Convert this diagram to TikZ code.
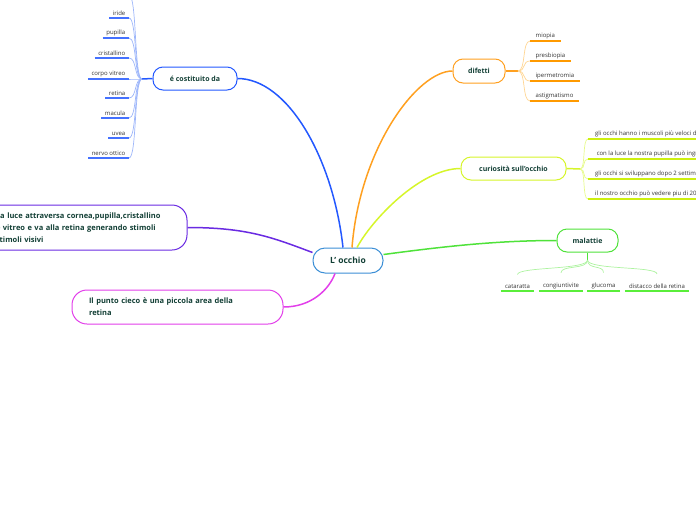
\documentclass[tikz,border=0pt]{standalone}
\usepackage{fontspec}
\setmainfont{Open Sans}
\definecolor{txt}{HTML}{123F35}
\definecolor{leaftxt}{HTML}{333333}
\definecolor{cblue}{HTML}{3C8FD6}
\definecolor{blueA}{HTML}{2358FF}
\definecolor{blueL}{HTML}{9DB6FA}
\definecolor{oraA}{HTML}{FFA020}
\definecolor{oraU}{HTML}{FF9A00}
\definecolor{oraL}{HTML}{FFD592}
\definecolor{ygA}{HTML}{D6F52A}
\definecolor{ygU}{HTML}{CDEF10}
\definecolor{ygL}{HTML}{E6FA8A}
\definecolor{grA}{HTML}{4FE23A}
\definecolor{grU}{HTML}{5AEE3A}
\definecolor{grL}{HTML}{ADF3A0}
\definecolor{purA}{HTML}{6A2BE2}
\definecolor{magA}{HTML}{E23FEA}
\tikzset{
  mainbox/.style={draw, line width=1pt, fill=white, rounded corners=10pt,
    text=txt, font=\fontsize{7}{8.5}\selectfont\bfseries, inner sep=0pt},
  bigtext/.style={font=\fontsize{7.5}{12}\selectfont\bfseries},
  leafL/.style={anchor=south east, inner xsep=3.5pt, inner ysep=2pt, text=leaftxt,
    font=\fontsize{6}{7}\selectfont},
  leafR/.style={anchor=south west, inner xsep=5.5pt, inner ysep=2pt, text=leaftxt,
    font=\fontsize{6}{7}\selectfont},
  leafD/.style={anchor=south, inner xsep=4pt, inner ysep=2pt, text=leaftxt,
    font=\fontsize{6}{7}\selectfont},
  conn/.style={line width=1.5pt},
  uline/.style={line width=1.5pt},
  thin/.style={line width=0.7pt}
}
\begin{document}
\begin{tikzpicture}[x=1pt,y=-1pt]
\useasboundingbox (0,0) rectangle (696,520);
\clip (0,0) rectangle (696,520);

% central node
\node[mainbox, draw=cblue, rounded corners=12pt, minimum width=70pt, minimum height=25pt,
  font=\fontsize{8.5}{10}\selectfont\bfseries] (c) at (348,260.5) {L' occhio};

% main branches
\node[mainbox, draw=blueA, minimum width=84pt, minimum height=23pt] (cost) at (195,78.5) {é costituito da};
\node[mainbox, draw=oraA, minimum width=52pt, minimum height=24pt] (dif) at (479,71) {difetti};
\node[mainbox, draw=ygA, minimum width=105pt, minimum height=23pt] (cur) at (513.5,168.5) {curiosità sull'occhio};
\node[mainbox, draw=grA, minimum width=61pt, minimum height=23pt] (mal) at (587.5,240.5) {malattie};
\node[mainbox, bigtext, draw=purA, rounded corners=15pt, minimum width=202pt, minimum height=45pt,
  text width=180pt, align=left, inner xsep=11pt] (pur) at (86,227.5)
  {La luce attraversa cornea,pupilla,cristallino\\e vitreo e va alla retina generando stimoli\\stimoli visivi};
\node[mainbox, bigtext, draw=magA, rounded corners=15pt, minimum width=211pt, minimum height=34pt,
  text width=177pt, align=left, inner xsep=17pt] (mag) at (177.5,307)
  {Il punto cieco è una piccola area della\\retina};

% main connectors
\draw[conn, blueA] ([xshift=-5pt]c.north) .. controls +(-10,-90) and +(50,0) .. (cost.east);
\draw[conn, oraA] ([xshift=4pt]c.north) .. controls +(8,-100) and +(-35,0) .. (dif.west);
\draw[conn, ygA] ([xshift=9pt]c.north) .. controls +(15,-28) and +(-40,0) .. (cur.west);
\draw[conn, grA] ([yshift=6pt]c.east) .. controls +(60,-8) and +(-60,0) .. (mal.west);
\draw[conn, purA] (pur.east) .. controls +(60,0) and +(-40,-15) .. ([yshift=8pt]c.west);
\draw[conn, magA] (mag.east) .. controls +(28,0) and +(-6,16) .. ([xshift=-13pt]c.south);

% ---- é costituito da
\coordinate (hc) at (142,79);
\coordinate (ctop) at (129,-5);
\draw[conn, blueA] (hc) -- (cost.west);
\foreach \n/\t/\y in {c1/iride/18, c2/pupilla/38, c3/cristallino/58, c4/corpo vitreo/79,
  c5/retina/98, c6/macula/118, c7/uvea/138, c8/nervo ottico/158}{
  \node[leafL] (\n) at (129,\y) {\t};
  \draw[thin, blueL] (hc) .. controls +(-8,0) and +(8,0) .. (\n.south east);
  \draw[uline, blueA!85] (\n.south west) -- (\n.south east);
}
\draw[thin, blueL] (hc) .. controls +(-8,0) and +(8,0) .. (ctop);

% ---- difetti
\coordinate (hd) at (518,71);
\draw[conn, oraA] (dif.east) -- (hd);
\foreach \n/\t/\y in {d1/miopia/41, d2/presbiopia/61, d3/ipermetromia/81, d4/astigmatismo/101}{
  \node[leafR] (\n) at (530,\y) {\t};
  \draw[thin, oraL] (hd) .. controls +(8,0) and +(-8,0) .. (\n.south west);
  \draw[uline, oraU] (\n.south west) -- (\n.south east);
}

% ---- curiosità
\coordinate (hu) at (580,169);
\draw[conn, ygA] (cur.east) -- (hu);
\foreach \n/\t/\y in {u1/{gli occhi hanno i muscoli più veloci del corpo umano}/139,
  u2/{\ con la luce la nostra pupilla può ingrandirsi}/159,
  u3/{gli occhi si sviluppano dopo 2 settimane}/179,
  u4/{il nostro occhio può vedere piu di 200 colori}/199}{
  \node[leafR, inner xsep=7pt] (\n) at (588,\y) {\t};
  \draw[thin, ygL] (hu) .. controls +(6,0) and +(-6,0) .. (\n.south west);
  \draw[uline, ygU] (\n.south west) -- (\n.south east);
}

% ---- malattie
\coordinate (hm) at (587.5,260);
\draw[conn, grA] (mal.south) -- (hm);
\foreach \n/\t/\x in {m1/cataratta/517.5, m2/congiuntivite/561, m3/glucoma/603.5, m4/distacco della retina/657}{
  \node[leafD] (\n) at (\x,291) {\t};
  \draw[thin, grL] (hm) .. controls +(0,10) and +(0,-8) .. ([yshift=8pt]\n.north);
  \draw[uline, grU] (\n.south west) -- (\n.south east);
}
\end{tikzpicture}
\end{document}
